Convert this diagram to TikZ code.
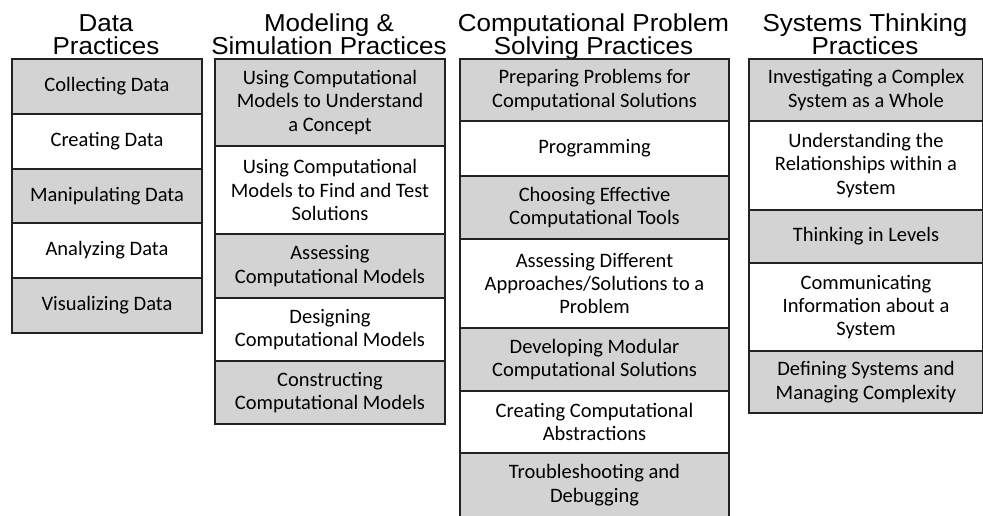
\documentclass[tikz,border=0pt]{standalone}
\usepackage{fontspec}
\setmainfont{Carlito}
\newfontfamily\titlefont[FakeStretch=1.06]{Liberation Sans}
\definecolor{cellgray}{RGB}{211,211,211}
\definecolor{cellline}{RGB}{35,35,35}
\tikzset{
  cell/.style={draw=cellline, line width=2pt, inner sep=0pt, align=center, anchor=north west,
    font=\fontsize{20.5}{23.3}\selectfont},
  gcell/.style={cell, fill=cellgray},
  wcell/.style={cell, fill=white},
  ttl/.style={anchor=base, inner sep=0pt, font=\titlefont\fontsize{24.5}{24}\selectfont}
}
\begin{document}
\begin{tikzpicture}[x=1pt,y=-1pt]
\useasboundingbox (0,0) rectangle (983,515);
% titles
\node[ttl] (t1a) at (106,31) {Data};
\node[ttl] (t1b) at (106,54) {Practices};
\node[ttl] (t2a) at (329,31) {Modeling \&};
\node[ttl] (t2b) at (329,54) {Simulation Practices};
\node[ttl] (t3a) at (593.5,31) {Computational Problem};
\node[ttl] (t3b) at (593.5,54) {Solving Practices};
\node[ttl] (t4a) at (865,31) {Systems Thinking};
\node[ttl] (t4b) at (865,54) {Practices};
% column 1
\node[gcell, minimum width=190pt, minimum height=55pt] (a1) at (11,58) {Collecting Data};
\node[wcell, minimum width=190pt, minimum height=55pt] (a2) at (11,113) {Creating Data};
\node[gcell, minimum width=190pt, minimum height=54pt] (a3) at (11,168) {Manipulating Data};
\node[wcell, minimum width=190pt, minimum height=55pt] (a4) at (11,222) {Analyzing Data};
\node[gcell, minimum width=190pt, minimum height=55pt] (a5) at (11,277) {Visualizing Data};
% column 2
\node[gcell, minimum width=230pt, minimum height=87pt] (b1) at (214,58) {Using Computational\\Models to Understand\\a Concept};
\node[wcell, minimum width=230pt, minimum height=88pt] (b2) at (214,145) {Using Computational\\Models to Find and Test\\Solutions};
\node[gcell, minimum width=230pt, minimum height=64pt] (b3) at (214,233) {Assessing\\Computational Models};
\node[wcell, minimum width=230pt, minimum height=63pt] (b4) at (214,297) {Designing\\Computational Models};
\node[gcell, minimum width=230pt, minimum height=63pt] (b5) at (214,360) {Constructing\\Computational Models};
% column 3
\node[gcell, minimum width=269pt, minimum height=62pt] (c1) at (459,58) {Preparing Problems for\\Computational Solutions};
\node[wcell, minimum width=269pt, minimum height=55pt] (c2) at (459,120) {Programming};
\node[gcell, minimum width=269pt, minimum height=63pt] (c3) at (459,175) {Choosing Effective\\Computational Tools};
\node[wcell, minimum width=269pt, minimum height=89pt] (c4) at (459,238) {Assessing Different\\Approaches/Solutions to a\\Problem};
\node[gcell, minimum width=269pt, minimum height=63pt] (c5) at (459,327) {Developing Modular\\Computational Solutions};
\node[wcell, minimum width=269pt, minimum height=62pt] (c6) at (459,390) {Creating Computational\\Abstractions};
\node[gcell, minimum width=269pt, minimum height=64pt] (c7) at (459,452) {Troubleshooting and\\Debugging};
% column 4
\node[gcell, minimum width=234pt, minimum height=62pt] (d1) at (748,58) {Investigating a Complex\\System as a Whole};
\node[wcell, minimum width=234pt, minimum height=89pt] (d2) at (748,120) {Understanding the\\Relationships within a\\System};
\node[gcell, minimum width=234pt, minimum height=53pt] (d3) at (748,209) {Thinking in Levels};
\node[wcell, minimum width=234pt, minimum height=88pt] (d4) at (748,262) {Communicating\\Information about a\\System};
\node[gcell, minimum width=234pt, minimum height=62pt] (d5) at (748,350) {Defining Systems and\\Managing Complexity};
\end{tikzpicture}
\end{document}
